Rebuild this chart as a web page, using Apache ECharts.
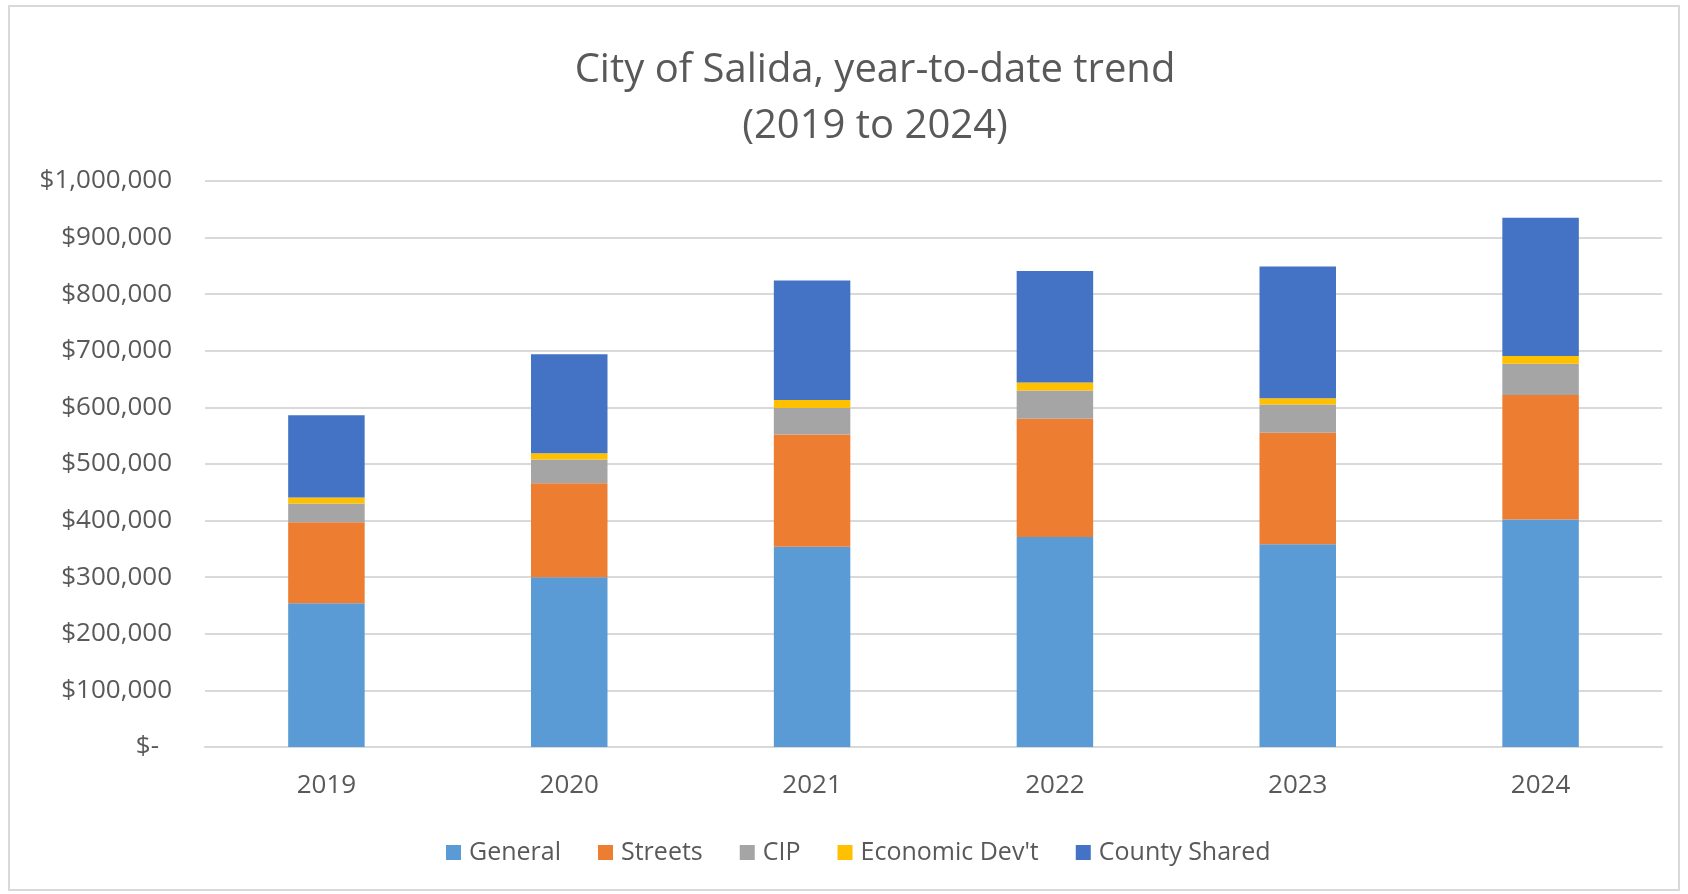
<!DOCTYPE html>
<html>
<head>
<meta charset="utf-8">
<title>City of Salida, year-to-date trend</title>
<script src="https://cdn.jsdelivr.net/npm/echarts@6/dist/echarts.min.js"></script>
<style>
	html, body { margin: 0; padding: 0; background: #fff; }
	#chart { width: 1688px; height: 894px; }
</style>
</head>
<body>
<div id="chart"></div>
<script>
// Data (year-to-date totals, dollars)
var years = ['2019', '2020', '2021', '2022', '2023', '2024'];
var general = [254000, 300000, 354000, 371000, 358000, 402000];
var streets = [143000, 166000, 198000, 209000, 197000, 220000];
var cip = [33000, 42000, 47000, 50000, 50000, 55000];
var econDev = [11000, 11000, 14000, 14000, 11000, 14000];
var countyShared = [145000, 175000, 211000, 197000, 233000, 244000];

var yMin = 0;
var yMax = 1000000;
var yStep = 100000;

var textColor = '#595959';
var gridColor = '#D9D9D9';
var fontName = '"Open Sans", "Liberation Sans", sans-serif';

function moneyLabel(v) {
	if (v === 0) return '{z|$-}';
	return '$' + v.toLocaleString('en-US');
}

function barSeries(name, data, color) {
	return {
		name: name,
		type: 'bar',
		stack: 'total',
		barWidth: '31.5%',
		data: data,
		itemStyle: { color: color },
		emphasis: { disabled: true }
	};
}

var chart = echarts.init(document.getElementById('chart'), null, { renderer: 'canvas' });

chart.setOption({
	animation: false,
	backgroundColor: '#fff',
	textStyle: { fontFamily: fontName },
	title: {
		text: 'City of Salida, year-to-date trend\n(2019 to 2024)',
		// title sits a little right of the page centre in the original
		left: 870,
		textAlign: 'center',
		top: 38,
		textStyle: {
			color: textColor,
			fontSize: 40,
			fontWeight: 'normal',
			lineHeight: 56,
			fontFamily: fontName
		}
	},
	legend: {
		bottom: 24,
		left: 441,
		itemWidth: 15,
		itemHeight: 15,
		itemGap: 37,
		icon: 'rect',
		textStyle: { color: textColor, fontSize: 25, padding: [0, 0, 0, 3] },
		data: ['General', 'Streets', 'CIP', "Economic Dev't", 'County Shared']
	},
	grid: {
		left: 205,
		right: 26,
		top: 181,
		bottom: 147
	},
	xAxis: {
		type: 'category',
		data: years,
		axisLine: { lineStyle: { color: gridColor, width: 2 } },
		axisTick: { show: false },
		axisLabel: { color: textColor, fontSize: 26, margin: 26 }
	},
	yAxis: {
		type: 'value',
		min: yMin,
		max: yMax,
		interval: yStep,
		axisLine: { show: false },
		axisTick: { show: false },
		splitLine: { lineStyle: { color: gridColor, width: 2 } },
		axisLabel: {
			color: textColor,
			fontSize: 26,
			margin: 33,
			formatter: moneyLabel,
			rich: {
				z: { color: textColor, fontSize: 26, padding: [0, 13, 0, 0] }
			}
		}
	},
	graphic: [{
		type: 'rect',
		shape: { x: 9, y: 6, width: 1670, height: 884 },
		style: { fill: 'none', stroke: gridColor, lineWidth: 2 },
		silent: true
	}],
	series: [
		barSeries('General', general, '#5B9BD5'),
		barSeries('Streets', streets, '#ED7D31'),
		barSeries('CIP', cip, '#A5A5A5'),
		barSeries("Economic Dev't", econDev, '#FFC000'),
		barSeries('County Shared', countyShared, '#4472C4')
	]
});
</script>
</body>
</html>
